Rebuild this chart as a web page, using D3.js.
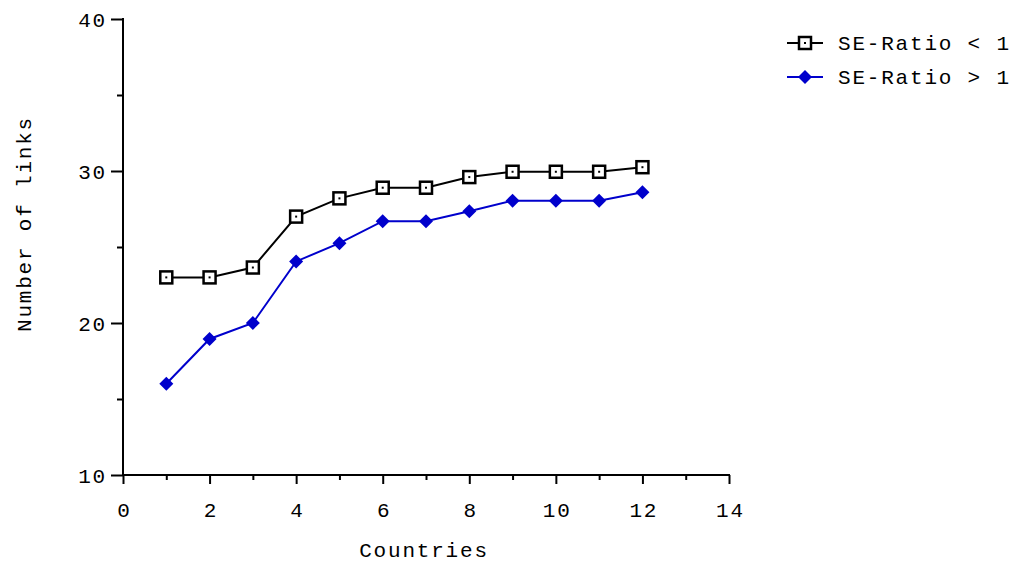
<!DOCTYPE html>
<html><head><meta charset="utf-8">
<script src="https://cdn.jsdelivr.net/npm/d3@7"></script>
<style>body{margin:0;background:#fff}svg text{font-family:"Liberation Mono","Courier New",monospace;font-size:21px;letter-spacing:1.8px;fill:#000;}</style>
</head><body><svg id="c" width="1016" height="565"></svg>
<script>
const countries = [1,2,3,4,5,6,7,8,9,10,11,12];
const seBelow = [23,23,23.65,27,28.2,28.9,28.9,29.6,29.95,29.95,29.95,30.25];
const seAbove = [16,18.95,20,24.05,25.25,26.7,26.7,27.35,28.05,28.05,28.05,28.6];
const xTicks = [0,2,4,6,8,10,12,14];
const yTicks = [10,20,30,40];
const seriesNames = ["SE-Ratio < 1","SE-Ratio > 1"];

const svg = d3.select("#c");
const x = d3.scaleLinear().domain([0,14]).range([123,729]);
const y = d3.scaleLinear().domain([10,40]).range([475,19]);

const g = svg.append("g");
const xAxis = d3.axisBottom(x).tickValues(d3.range(0,15,1)).tickSizeOuter(0)
  .tickFormat(d=> xTicks.includes(d)? d : "");
const gx = g.append("g").attr("transform","translate(0,475)").call(xAxis);
gx.selectAll(".tick line").attr("y2", d=> d%2===0? 9:5).attr("stroke-width",2);
gx.select(".domain").attr("stroke-width",2).attr("d","M122,0H730");
gx.selectAll(".tick text").attr("y",42).attr("dy",0).attr("dx",0.9);

const yAxis = d3.axisLeft(y).tickValues(d3.range(10,41,5)).tickSizeOuter(0)
  .tickFormat(d=> yTicks.includes(d)? d : "");
const gy = g.append("g").attr("transform","translate(123,0)").call(yAxis);
gy.selectAll(".tick line").attr("x2", d=> d%10===0? -12:-6).attr("stroke-width",2);
gy.select(".domain").attr("stroke-width",2).attr("d","M0,18V476");
gy.selectAll(".tick text").attr("x",-16).attr("dy","0.35em");

svg.append("text").attr("x",424).attr("y",557).attr("text-anchor","middle").text("Countries");
svg.append("text").attr("transform","translate(31,224) rotate(-90)").attr("text-anchor","middle").text("Number of links");

const line = d3.line().x((d,i)=>x(countries[i])).y(d=>y(d));
const colors = ["#000000","#0000cc"];
[seBelow, seAbove].forEach((s,k)=>{
  g.append("path").datum(s).attr("d",line).attr("fill","none").attr("stroke",colors[k]).attr("stroke-width",2);
});
function square(sel, cx, cy){
  sel.append("rect").attr("x",cx-6).attr("y",cy-6).attr("width",12).attr("height",12)
    .attr("fill","#fff").attr("stroke","#000").attr("stroke-width",2.5);
  sel.append("rect").attr("x",cx-1).attr("y",cy-1).attr("width",2).attr("height",2).attr("fill","#000");
}
function diamond(sel, cx, cy){
  sel.append("path").attr("d",`M${cx},${cy-7}L${cx+7},${cy}L${cx},${cy+7}L${cx-7},${cy}Z`).attr("fill","#0000cc");
}
seBelow.forEach((v,i)=>square(g, x(countries[i]), y(v)));
seAbove.forEach((v,i)=>diamond(g, x(countries[i]), y(v)));

const legY = [43,77];
legY.forEach((yy,k)=>{
  svg.append("line").attr("x1",787).attr("x2",823).attr("y1",yy).attr("y2",yy).attr("stroke",colors[k]).attr("stroke-width",2);
  if(k===0) square(svg,805,yy); else diamond(svg,805,yy);
  svg.append("text").attr("x",838).attr("y",yy).attr("dy","0.35em").text(seriesNames[k]);
});
</script></body></html>
